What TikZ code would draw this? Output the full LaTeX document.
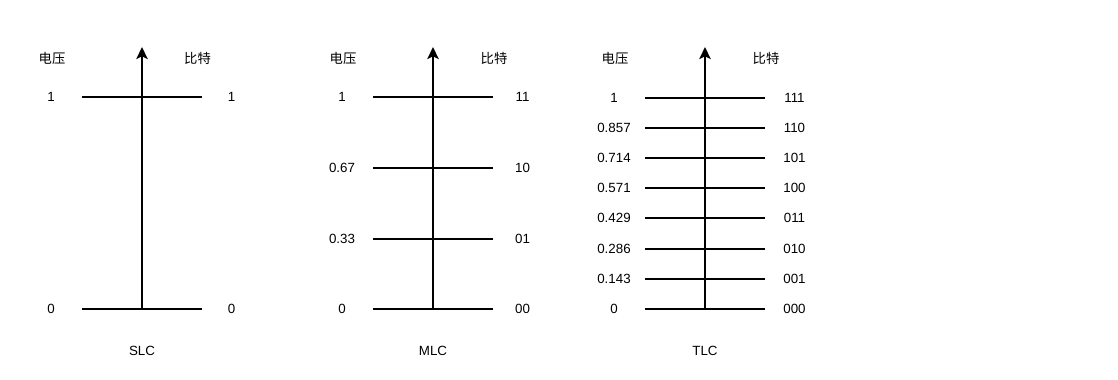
\documentclass[tikz,border=0pt]{standalone}
\usepackage{fontspec}
\setmainfont{Liberation Sans}
\newfontfamily\cjkfont{Noto Sans CJK SC}
\usetikzlibrary{arrows.meta}
\tikzset{
  levelline/.style={line width=1.5pt},
  axisline/.style={line width=1.5pt,-{Stealth[length=9pt,width=8.5pt,inset=2pt]}},
  lbl/.style={font=\fontsize{10}{12}\selectfont,inner sep=0pt},
  cjklbl/.style={lbl,font=\fontsize{10}{12}\selectfont\cjkfont},
}

\begin{document}
\begin{tikzpicture}[x=0.75pt,y=-0.75pt]
    \useasboundingbox (0,0) rectangle (1118,379);
    % axes, headings and titles
    \foreach \pnl/\cx/\bx/\name in {slc/142/197.5/SLC, mlc/433/494/MLC, tlc/705/766/TLC} {
        \coordinate (\pnl-bot) at (\cx,309);
        \coordinate (\pnl-top) at (\cx,47);
        \draw [axisline] (\pnl-bot) -- (\pnl-top);
        \node [cjklbl] (\pnl-volt) at (\cx-90,58.5) {电压};
        \node [cjklbl] (\pnl-bit) at (\bx,58.5) {比特};
        \node [lbl] (\pnl-title) at (\cx,350.5) {\name};
    }
    % voltage levels
    \foreach \pnl/\cx/\y/\v/\b/\i in {slc/142/97/1/1/1, slc/142/309/0/0/0,
        mlc/433/97/1/11/3, mlc/433/168/0.67/10/2, mlc/433/239/0.33/01/1, mlc/433/309/0/00/0,
        tlc/705/97.5/1/111/7, tlc/705/127.7/0.857/110/6, tlc/705/157.9/0.714/101/5,
        tlc/705/188/0.571/100/4, tlc/705/218.3/0.429/011/3, tlc/705/248.5/0.286/010/2,
        tlc/705/278.7/0.143/001/1, tlc/705/309/0/000/0} {
        \coordinate (\pnl-l\i) at (\cx-60,\y);
        \coordinate (\pnl-r\i) at (\cx+60,\y);
        \draw [levelline] (\pnl-l\i) -- (\pnl-r\i);
        \node [lbl] (\pnl-v\i) at (\cx-91,\y) {\v};
        \node [lbl] (\pnl-b\i) at (\cx+89.5,\y) {\b};
    }
\end{tikzpicture}
\end{document}
